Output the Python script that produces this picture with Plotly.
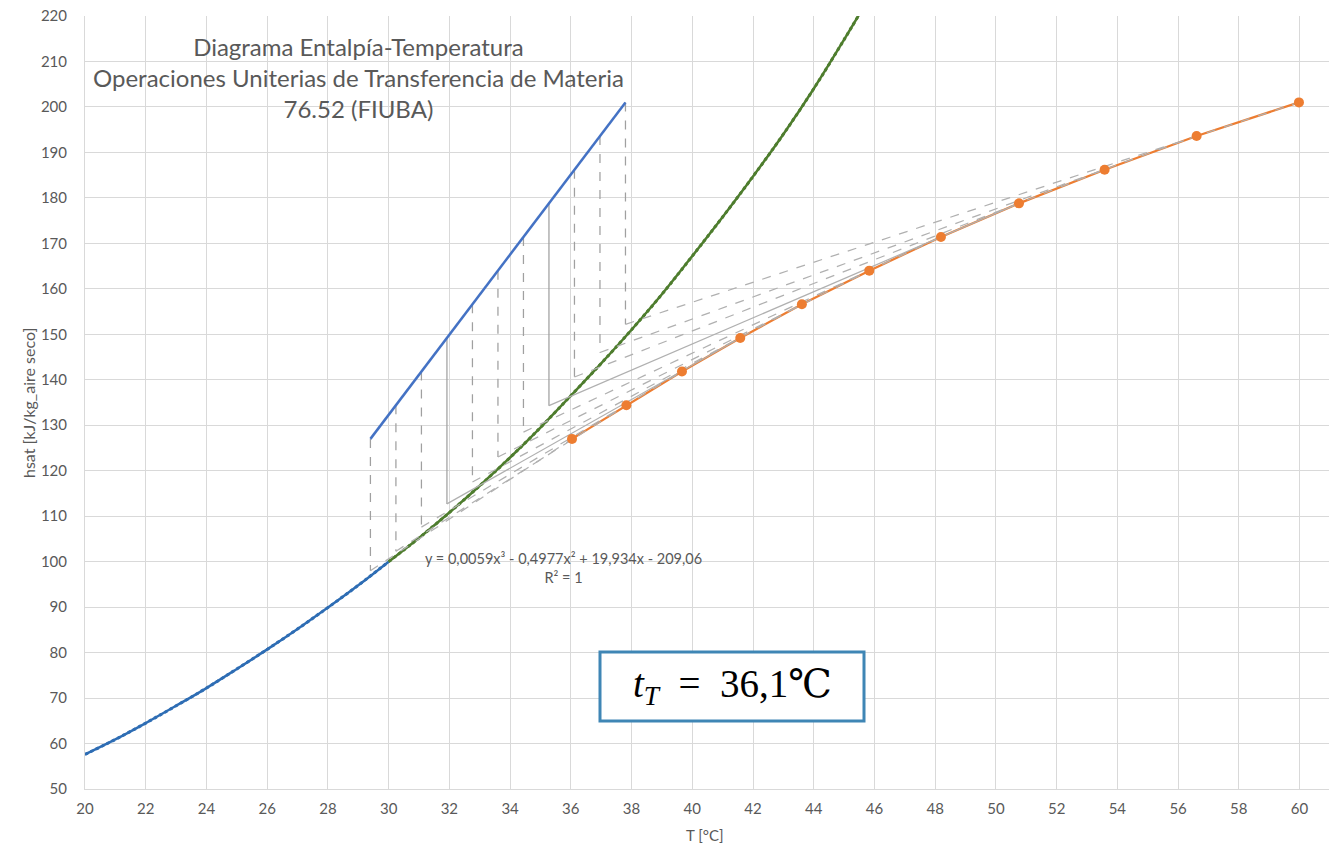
import plotly.graph_objects as go

# ---------------- data ----------------
# saturation enthalpy curve
t_sat_low = [20, 21, 22, 23, 24, 25, 26, 27, 28, 29, 30]
h_sat_low = [57.6, 60.9, 64.5, 68.3, 72.2, 76.4, 80.7, 85.2, 89.9, 94.8, 100.0]
t_sat_high = [30, 31, 32, 33, 34, 35, 36, 37, 38, 39, 40, 41, 42, 43, 44, 45, 46]
h_sat_high = [100.0, 105.2, 110.8, 116.7, 122.9, 129.5, 136.5, 143.6, 151.0, 158.8,
              167.2, 175.8, 184.7, 194.0, 204.0, 214.8, 226.0]

# operating line (water temperature vs air enthalpy)
t_liq = [29.4, 30.24, 31.08, 31.92, 32.76, 33.6, 34.44, 35.28, 36.12, 36.96, 37.8]
h_air = [127.0, 134.4, 141.8, 149.2, 156.6, 164.0, 171.4, 178.8, 186.2, 193.6, 201.0]
# interface enthalpy at each liquid temperature
h_int = [98.0, 102.3, 107.6, 112.7, 117.5, 123.0, 128.5, 134.3, 140.6, 146.0, 152.2]
# gas temperature path (Mickley)
t_gas = [36.04, 37.83, 39.66, 41.58, 43.61, 45.83, 48.19, 50.76, 53.58, 56.61, 59.98]

x_ticks = list(range(20, 61, 2))
y_ticks = list(range(50, 221, 10))

title_lines = ["Diagrama Entalpía-Temperatura",
               "Operaciones Uniterias de Transferencia de Materia",
               "76.52 (FIUBA)"]
equation = "y = 0,0059x³ - 0,4977x² + 19,934x - 209,06"
r2_text = "R² = 1"
x_title = "T [°C]"
y_title = "hsat [kJ/kg_aire seco]"

# ---------------- styles ----------------
solid_idx = {3, 7}
GRID = "#D9D9D9"
TXT = "#595959"
FONT = "Lato, Open Sans, sans-serif"

fig = go.Figure()

# saturation curve (lower part, blue) + dotted trendline
fig.add_trace(go.Scatter(x=t_sat_low, y=h_sat_low, mode="lines",
                         line=dict(color="#2E6DB4", width=2.5, shape="spline"),
                         showlegend=False, hoverinfo="skip"))
fig.add_trace(go.Scatter(x=t_sat_low, y=h_sat_low, mode="lines",
                         line=dict(color="#2E6DB4", width=3, dash="dot", shape="spline"),
                         showlegend=False, hoverinfo="skip"))
# saturation curve (upper part, green) + dotted trendline
fig.add_trace(go.Scatter(x=t_sat_high, y=h_sat_high, mode="lines",
                         line=dict(color="#4E7D2E", width=2.5, shape="spline"),
                         showlegend=False, hoverinfo="skip"))
fig.add_trace(go.Scatter(x=t_sat_high, y=h_sat_high, mode="lines",
                         line=dict(color="#4E7D2E", width=3, dash="dot", shape="spline"),
                         showlegend=False, hoverinfo="skip"))

# vertical tie lines
for i in range(len(t_liq)):
    dash = "solid" if i in solid_idx else "dash"
    fig.add_trace(go.Scatter(x=[t_liq[i], t_liq[i]], y=[h_air[i], h_int[i]], mode="lines",
                             line=dict(color="#A0A0A0", width=1.25, dash=dash),
                             showlegend=False, hoverinfo="skip"))

# operating line
fig.add_trace(go.Scatter(x=t_liq, y=h_air, mode="lines",
                         line=dict(color="#4472C4", width=2.5),
                         showlegend=False, hoverinfo="skip"))

# gas path line
fig.add_trace(go.Scatter(x=t_gas, y=h_air, mode="lines",
                         line=dict(color="#ED7D31", width=2.25),
                         showlegend=False, hoverinfo="skip"))

# slanted Mickley lines (interface -> gas state)
for i in range(len(t_liq)):
    dash = "solid" if i in solid_idx else "dash"
    fig.add_trace(go.Scatter(x=[t_liq[i], t_gas[i]], y=[h_int[i], h_air[i]], mode="lines",
                             line=dict(color="#B0B0B0", width=1.25, dash=dash),
                             showlegend=False, hoverinfo="skip"))

# gas path markers
fig.add_trace(go.Scatter(x=t_gas, y=h_air, mode="markers",
                         marker=dict(color="#ED7D31", size=10, line=dict(width=0)),
                         showlegend=False, hoverinfo="skip"))

# ---------------- layout ----------------
fig.update_layout(
    width=1335, height=846,
    margin=dict(l=85, r=6, t=16, b=57),
    paper_bgcolor="white", plot_bgcolor="white",
    font=dict(family=FONT, color=TXT),
    showlegend=False,
)
fig.update_xaxes(range=[20, 60.97], tickvals=x_ticks, ticktext=[str(v) for v in x_ticks],
                 showgrid=True, gridcolor=GRID, gridwidth=1, zeroline=False,
                 showline=True, linecolor=GRID, linewidth=1, ticks="",
                 tickfont=dict(size=15, color=TXT, family=FONT), ticklabelstandoff=6)
fig.update_yaxes(range=[50, 220], tickvals=y_ticks, ticktext=[str(v) for v in y_ticks],
                 showgrid=True, gridcolor=GRID, gridwidth=1, zeroline=False,
                 showline=True, linecolor=GRID, linewidth=1, ticks="",
                 tickfont=dict(size=15, color=TXT, family=FONT), ticklabelstandoff=14)

annotations = [
    dict(text="<br>".join(title_lines), xref="paper", yref="paper",
         x=(358 - 85) / 1244, y=(789 - 78) / 773, xanchor="center", yanchor="middle",
         showarrow=False, align="center", font=dict(size=24, color=TXT, family=FONT)),
    dict(text=equation + "<br>" + r2_text, xref="paper", yref="paper",
         x=(563 - 85) / 1244, y=(789 - 568) / 773, xanchor="center", yanchor="middle",
         showarrow=False, align="center", font=dict(size=14.5, color=TXT, family=FONT)),
    dict(text=x_title, xref="paper", yref="paper",
         x=(705 - 85) / 1244, y=(789 - 835) / 773, xanchor="center", yanchor="middle",
         showarrow=False, font=dict(size=15, color=TXT, family=FONT)),
    dict(text=y_title, xref="paper", yref="paper",
         x=(28 - 85) / 1244, y=(789 - 403) / 773, xanchor="center", yanchor="middle",
         textangle=-90, showarrow=False, font=dict(size=16, color=TXT, family=FONT)),
    dict(text="<i>t</i><sub><i>T</i></sub>  =  36,1℃", xref="paper", yref="paper",
         x=(732 - 85) / 1244, y=(789 - 686) / 773, xanchor="center", yanchor="middle",
         showarrow=False, font=dict(size=39, color="black", family="Liberation Serif, DejaVu Serif, serif")),
]
fig.update_layout(annotations=annotations)

fig.add_shape(type="rect", xref="paper", yref="paper",
              x0=(600 - 85) / 1244, x1=(864 - 85) / 1244,
              y0=(789 - 721) / 773, y1=(789 - 652) / 773,
              line=dict(color="#3F86B5", width=3), fillcolor="white", layer="above")

fig.write_html("out.html",
               config={"displayModeBar": False, "staticPlot": True},
               post_script="document.body.style.margin='0px';document.body.style.overflow='hidden';")
